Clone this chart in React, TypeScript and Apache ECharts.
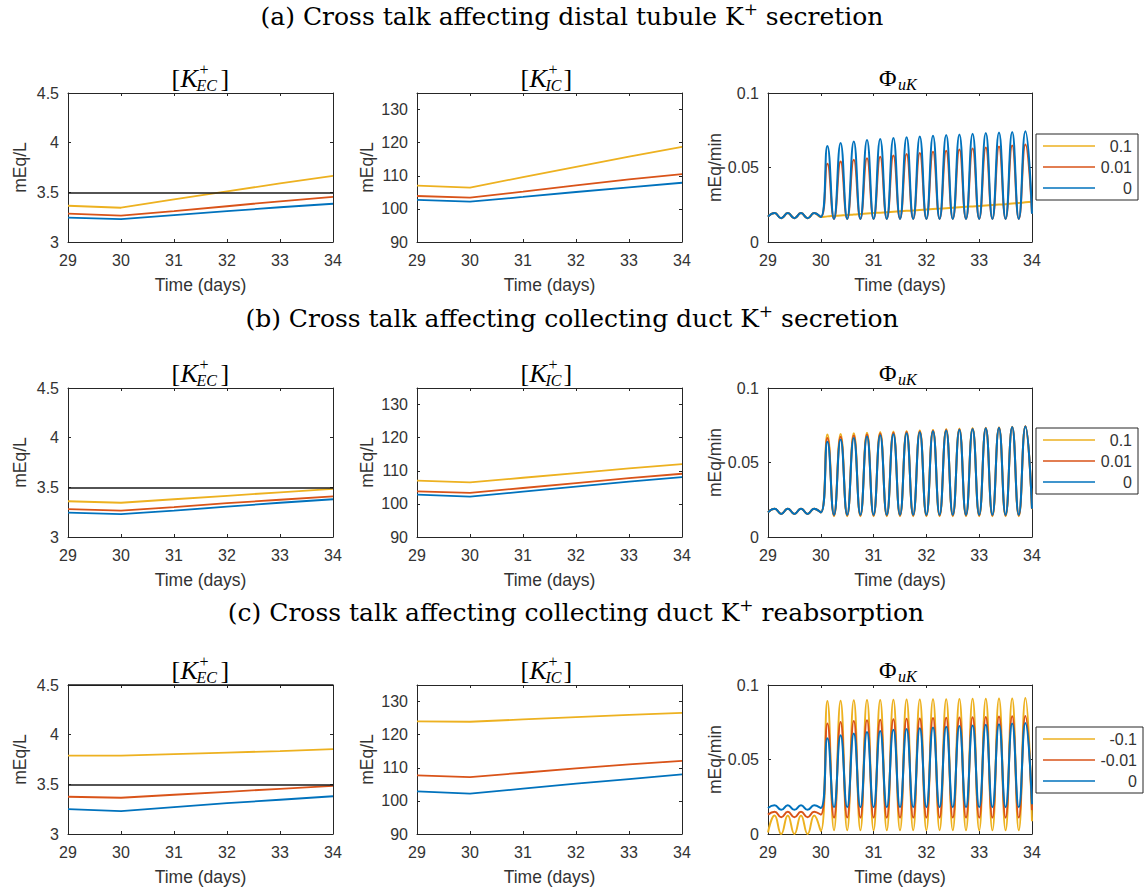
import React, { useEffect, useRef } from "react";
import * as echarts from "echarts";

// ---------- data ----------
const SLOW_TIMES = [29, 30, 31, 32, 33, 34];

// (a) distal tubule K+ secretion
const EC_A_01 = [3.365, 3.345, 3.43, 3.51, 3.59, 3.665];
const EC_A_001 = [3.285, 3.265, 3.31, 3.36, 3.41, 3.455];
const EC_A_0 = [3.245, 3.23, 3.27, 3.31, 3.35, 3.385];
const IC_A_01 = [107.0, 106.4, 109.6, 112.7, 115.8, 118.7];
const IC_A_001 = [103.9, 103.4, 105.2, 107.1, 108.9, 110.5];
const IC_A_0 = [102.7, 102.2, 103.6, 105.1, 106.5, 107.9];
// (b) collecting duct K+ secretion
const EC_B_01 = [3.36, 3.345, 3.38, 3.415, 3.45, 3.485];
const EC_B_001 = [3.28, 3.265, 3.3, 3.34, 3.375, 3.41];
const EC_B_0 = [3.245, 3.23, 3.265, 3.305, 3.345, 3.38];
const IC_B_01 = [107.0, 106.5, 107.9, 109.3, 110.7, 112.0];
const IC_B_001 = [103.8, 103.3, 104.8, 106.3, 107.8, 109.1];
const IC_B_0 = [102.8, 102.2, 103.7, 105.2, 106.7, 108.1];
// (c) collecting duct K+ reabsorption
const EC_C_M01 = [3.79, 3.79, 3.805, 3.82, 3.835, 3.855];
const EC_C_M001 = [3.375, 3.365, 3.395, 3.425, 3.455, 3.485];
const EC_C_0 = [3.25, 3.23, 3.27, 3.31, 3.345, 3.38];
const IC_C_M01 = [124.0, 123.9, 124.6, 125.3, 126.0, 126.6];
const IC_C_M001 = [107.7, 107.2, 108.5, 109.8, 111.0, 112.1];
const IC_C_0 = [102.9, 102.2, 103.7, 105.2, 106.6, 108.0];

const EC_REF_AB = [3.5];
const EC_REF_C = [3.5, 4.5];

const FLUX_TIMES = [
  29, 29.125, 29.25, 29.375, 29.5, 29.625, 29.75, 29.875,
  30, 30.125, 30.25, 30.375, 30.5, 30.625, 30.75, 30.875,
  31, 31.125, 31.25, 31.375, 31.5, 31.625, 31.75, 31.875,
  32, 32.125, 32.25, 32.375, 32.5, 32.625, 32.75, 32.875,
  33, 33.125, 33.25, 33.375, 33.5, 33.625, 33.75, 33.875, 34,
];

const FLUX_A_01 = [
  0.017, 0.0194, 0.016, 0.0194, 0.016, 0.0194, 0.016, 0.0194,
  0.0168, 0.0172, 0.0175, 0.0178, 0.0181, 0.0185, 0.0188, 0.0191,
  0.0194, 0.0197, 0.02, 0.0203, 0.0206, 0.0209, 0.0212, 0.0215,
  0.0218, 0.0221, 0.0224, 0.0227, 0.023, 0.0233, 0.0236, 0.0239,
  0.0242, 0.0245, 0.0248, 0.0251, 0.0254, 0.0258, 0.0262, 0.0266, 0.027,
];
const FLUX_A_001 = [
  0.017, 0.0194, 0.016, 0.0194, 0.016, 0.0194, 0.016, 0.0194,
  0.0168, 0.0525, 0.0155, 0.054, 0.0155, 0.0552, 0.0155, 0.0562,
  0.0155, 0.0572, 0.0155, 0.0581, 0.0155, 0.059, 0.0155, 0.0598,
  0.0155, 0.0606, 0.0155, 0.0613, 0.0155, 0.062, 0.0155, 0.0627,
  0.0155, 0.0634, 0.0155, 0.0641, 0.0155, 0.0648, 0.0155, 0.0655, 0.019,
];
const FLUX_A_0 = [
  0.017, 0.0194, 0.016, 0.0194, 0.016, 0.0194, 0.016, 0.0194,
  0.0168, 0.0645, 0.0155, 0.0665, 0.0155, 0.0675, 0.0155, 0.0685,
  0.0155, 0.0692, 0.0155, 0.0698, 0.0155, 0.0703, 0.0155, 0.0708,
  0.0155, 0.0713, 0.0155, 0.0718, 0.0155, 0.0722, 0.0155, 0.0727,
  0.0155, 0.0731, 0.0155, 0.0735, 0.0155, 0.0739, 0.0155, 0.0743, 0.019,
];

const FLUX_B_01 = [
  0.0165, 0.019, 0.0155, 0.019, 0.0155, 0.019, 0.0155, 0.019,
  0.0165, 0.0688, 0.014, 0.0692, 0.014, 0.0696, 0.014, 0.07,
  0.014, 0.0704, 0.014, 0.0708, 0.014, 0.0712, 0.014, 0.0716,
  0.014, 0.072, 0.014, 0.0724, 0.014, 0.0728, 0.014, 0.0731,
  0.014, 0.0734, 0.014, 0.0737, 0.014, 0.074, 0.014, 0.0744, 0.0186,
];
const FLUX_B_001 = [
  0.0165, 0.019, 0.0155, 0.019, 0.0155, 0.019, 0.0155, 0.019,
  0.0165, 0.0665, 0.0145, 0.0673, 0.0145, 0.0681, 0.0145, 0.0688,
  0.0145, 0.0694, 0.0145, 0.07, 0.0145, 0.0705, 0.0145, 0.071,
  0.0145, 0.0715, 0.0145, 0.0719, 0.0145, 0.0723, 0.0145, 0.0727,
  0.0145, 0.0731, 0.0145, 0.0735, 0.0145, 0.0739, 0.0145, 0.0743, 0.0188,
];
const FLUX_B_0 = [
  0.0165, 0.019, 0.0155, 0.019, 0.0155, 0.019, 0.0155, 0.019,
  0.0165, 0.064, 0.015, 0.0655, 0.015, 0.0665, 0.015, 0.0675,
  0.015, 0.0683, 0.015, 0.069, 0.015, 0.0697, 0.015, 0.0703,
  0.015, 0.0709, 0.015, 0.0715, 0.015, 0.072, 0.015, 0.0725,
  0.015, 0.073, 0.015, 0.0734, 0.015, 0.0738, 0.015, 0.0742, 0.019,
];

const FLUX_C_M01 = [
  0.001, 0.0125, 0.0, 0.0125, 0.0, 0.0125, 0.0, 0.0125,
  0.002, 0.0893, 0.0025, 0.0895, 0.0025, 0.0897, 0.0025, 0.0899,
  0.0025, 0.09, 0.0025, 0.0901, 0.0025, 0.0902, 0.0025, 0.0903,
  0.0025, 0.0904, 0.0025, 0.0905, 0.0025, 0.0906, 0.0025, 0.0907,
  0.0025, 0.0908, 0.0025, 0.0909, 0.0025, 0.091, 0.0025, 0.0912, 0.0085,
];
const FLUX_C_M001 = [
  0.013, 0.015, 0.0112, 0.015, 0.0112, 0.015, 0.0112, 0.015,
  0.013, 0.0742, 0.011, 0.0752, 0.011, 0.0758, 0.011, 0.0763,
  0.011, 0.0767, 0.011, 0.077, 0.011, 0.0773, 0.011, 0.0776,
  0.011, 0.0778, 0.011, 0.078, 0.011, 0.0782, 0.011, 0.0784,
  0.011, 0.0786, 0.011, 0.0788, 0.011, 0.079, 0.011, 0.0792, 0.016,
];
const FLUX_C_0 = [
  0.0175, 0.0193, 0.0162, 0.0193, 0.0162, 0.0193, 0.0162, 0.0193,
  0.0175, 0.0642, 0.018, 0.0662, 0.018, 0.0674, 0.018, 0.0684,
  0.018, 0.0692, 0.018, 0.0699, 0.018, 0.0705, 0.018, 0.071,
  0.018, 0.0715, 0.018, 0.072, 0.018, 0.0725, 0.018, 0.0729,
  0.018, 0.0733, 0.018, 0.0737, 0.018, 0.0741, 0.018, 0.0745, 0.02,
];

const NAMES_AB = ["0.1", "0.01", "0"];
const NAMES_C = ["-0.1", "-0.01", "0"];
const ROW_TITLES = [
  "(a) Cross talk affecting distal tubule K{sup|+} secretion",
  "(b) Cross talk affecting collecting duct K{sup|+} secretion",
  "(c) Cross talk affecting collecting duct K{sup|+} reabsorption",
];

// ---------- styling / layout ----------
const COLORS = ["#EDB120", "#D95319", "#0072BD"];
const AX = "#262626";
const TXT = "#333333";
const SANS = '"Liberation Sans", Arial, Helvetica, sans-serif';
const SERIF = '"Liberation Serif", "Times New Roman", serif';
const TITLE_SERIF = '"DejaVu Serif", "Liberation Serif", serif';
const COL_LEFT = [68, 417, 768];
const COL_W = [265, 265, 264];
const ROW_TOP = [93, 388, 685];
const PLOT_H = 149;
const ROW_TITLE_Y = [16, 318, 612];
const ROW_TITLE_X = [572, 572, 576];
const LEGEND_TOP = [134, 428, 727];
const LEGEND_TEXT_W = [32, 32, 37];

const YCFG = [
  { min: 3, max: 4.5, interval: 0.5, name: "mEq/L", gap: 39, showMax: true },
  { min: 90, max: 135, interval: 10, name: "mEq/L", gap: 41, showMax: false },
  { min: 0, max: 0.1, interval: 0.05, name: "mEq/min", gap: 38, showMax: true },
];

function kTitle(cx: number, cy: number, sub: string) {
  const base = { fill: "#000", fontFamily: SERIF, verticalAlign: "middle", align: "left" };
  const subW = sub === "EC" ? 22 : 16;
  const x0 = cx - 29;
  return {
    type: "group",
    children: [
      { type: "text", x: x0, y: cy, style: { ...base, text: "[", fontSize: 26 } },
      { type: "text", x: x0 + 9, y: cy, style: { ...base, text: "K", fontSize: 26, fontStyle: "italic" } },
      { type: "text", x: x0 + 28, y: cy - 9, style: { ...base, text: "+", fontSize: 16 } },
      { type: "text", x: x0 + 25, y: cy + 7, style: { ...base, text: sub, fontSize: 16, fontStyle: "italic" } },
      { type: "text", x: x0 + 27 + subW, y: cy, style: { ...base, text: "]", fontSize: 26 } },
    ],
  };
}

function phiTitle(cx: number, cy: number) {
  const base = { fill: "#000", fontFamily: SERIF, verticalAlign: "middle", align: "left" };
  return {
    type: "group",
    children: [
      { type: "text", x: cx - 21, y: cy, style: { ...base, text: "Φ", fontSize: 24 } },
      { type: "text", x: cx - 2, y: cy + 6, style: { ...base, text: "uK", fontSize: 16, fontStyle: "italic" } },
    ],
  };
}

function buildOption() {
  const rows = [
    { ec: [EC_A_01, EC_A_001, EC_A_0], ic: [IC_A_01, IC_A_001, IC_A_0], flux: [FLUX_A_01, FLUX_A_001, FLUX_A_0], names: NAMES_AB, refs: EC_REF_AB },
    { ec: [EC_B_01, EC_B_001, EC_B_0], ic: [IC_B_01, IC_B_001, IC_B_0], flux: [FLUX_B_01, FLUX_B_001, FLUX_B_0], names: NAMES_AB, refs: EC_REF_AB },
    { ec: [EC_C_M01, EC_C_M001, EC_C_0], ic: [IC_C_M01, IC_C_M001, IC_C_0], flux: [FLUX_C_M01, FLUX_C_M001, FLUX_C_0], names: NAMES_C, refs: EC_REF_C },
  ];
  const grid: any[] = [];
  const xAxis: any[] = [];
  const yAxis: any[] = [];
  const series: any[] = [];
  const graphic: any[] = [];
  const legend: any[] = [];

  const tickStyle = { show: true, inside: true, length: 3, lineStyle: { color: AX, width: 1 } };
  const lineStyle = { show: true, onZero: false, lineStyle: { color: AX, width: 1 } };

  rows.forEach((row, r) => {
    graphic.push({
      type: "text",
      x: ROW_TITLE_X[r],
      y: ROW_TITLE_Y[r],
      style: {
        text: ROW_TITLES[r],
        fontFamily: TITLE_SERIF,
        fontSize: 25,
        fill: "#000",
        align: "center",
        verticalAlign: "middle",
        lineHeight: 32,
        rich: { sup: { fontSize: 17, lineHeight: 18, verticalAlign: "top", fontFamily: TITLE_SERIF, fill: "#000" } },
      },
    });
    for (let c = 0; c < 3; c++) {
      const g = r * 3 + c;
      const cy = YCFG[c];
      grid.push({ left: COL_LEFT[c], top: ROW_TOP[r], width: COL_W[c], height: PLOT_H, containLabel: false });
      xAxis.push({
        gridIndex: g, type: "value", min: 29, max: 34, interval: 1, position: "bottom",
        axisLine: lineStyle, axisTick: tickStyle, splitLine: { show: false },
        axisLabel: { fontSize: 16, color: TXT, fontFamily: SANS, margin: 10 },
        name: "Time (days)", nameLocation: "middle", nameGap: 34,
        nameTextStyle: { fontSize: 17.5, color: TXT, fontFamily: SANS },
      });
      xAxis.push({
        gridIndex: g, type: "value", min: 29, max: 34, interval: 1, position: "top",
        axisLine: lineStyle, axisTick: tickStyle, splitLine: { show: false }, axisLabel: { show: false },
      });
      yAxis.push({
        gridIndex: g, type: "value", min: cy.min, max: cy.max, interval: cy.interval, position: "left",
        axisLine: lineStyle, axisTick: tickStyle, splitLine: { show: false },
        axisLabel: { fontSize: 16, color: TXT, fontFamily: SANS, margin: 9, showMaxLabel: cy.showMax },
        name: cy.name, nameLocation: "middle", nameGap: cy.gap, nameRotate: 90,
        nameTextStyle: { fontSize: 17.5, color: TXT, fontFamily: SANS },
      });
      yAxis.push({
        gridIndex: g, type: "value", min: cy.min, max: cy.max, interval: cy.interval, position: "right",
        axisLine: lineStyle, axisTick: tickStyle, splitLine: { show: false }, axisLabel: { show: false },
      });

      const dataSets = c === 0 ? row.ec : c === 1 ? row.ic : row.flux;
      const times = c === 2 ? FLUX_TIMES : SLOW_TIMES;
      dataSets.forEach((vals, k) => {
        const s: any = {
          type: "line",
          name: row.names[k],
          xAxisIndex: 2 * g,
          yAxisIndex: 2 * g,
          data: times.map((t, i) => [t, vals[i]]),
          symbol: "none",
          showSymbol: false,
          smooth: c === 2 ? 0.5 : false,
          lineStyle: { color: COLORS[k], width: c === 2 ? 2 : 1.8 },
          itemStyle: { color: COLORS[k] },
          clip: true,
        };
        if (c === 0 && k === 2) {
          s.markLine = {
            silent: true,
            symbol: ["none", "none"],
            label: { show: false },
            lineStyle: { color: "#1a1a1a", width: 1.6, type: "solid" },
            data: row.refs.map((v) => ({ yAxis: v })),
          };
        }
        series.push(s);
      });

      const cx = COL_LEFT[c] + COL_W[c] / 2;
      const ty = ROW_TOP[r] - 15;
      if (c === 0) graphic.push(kTitle(cx, ty, "EC"));
      else if (c === 1) graphic.push(kTitle(cx, ty, "IC"));
      else graphic.push(phiTitle(cx, ty));
    }
    legend.push({
      orient: "vertical",
      left: 1036,
      top: LEGEND_TOP[r],
      data: row.names.map((n) => ({ name: n, icon: "rect" })),
      itemWidth: 52,
      itemHeight: 1.6,
      itemGap: 5,
      padding: [4, 6, 4, 7],
      borderColor: AX,
      borderWidth: 1,
      borderRadius: 0,
      backgroundColor: "#fff",
      selectedMode: false,
      formatter: "{r|{name}}",
      textStyle: {
        color: TXT,
        fontFamily: SANS,
        fontSize: 16,
        lineHeight: 16,
        rich: { r: { width: LEGEND_TEXT_W[r], align: "right", fontSize: 16, lineHeight: 16, fontFamily: SANS, color: TXT } },
      },
    });
  });

  return { animation: false, backgroundColor: "#fff", grid, xAxis, yAxis, series, legend, graphic };
}

export default function App() {
  const ref = useRef<HTMLDivElement>(null);
  useEffect(() => {
    if (!ref.current) return;
    const chart = echarts.init(ref.current, undefined, { renderer: "svg" });
    chart.setOption(buildOption() as any);
    return () => chart.dispose();
  }, []);
  return (
    <div
      ref={ref}
      style={{ position: "fixed", left: 0, top: 0, width: 1144, height: 892, background: "#fff" }}
    />
  );
}
